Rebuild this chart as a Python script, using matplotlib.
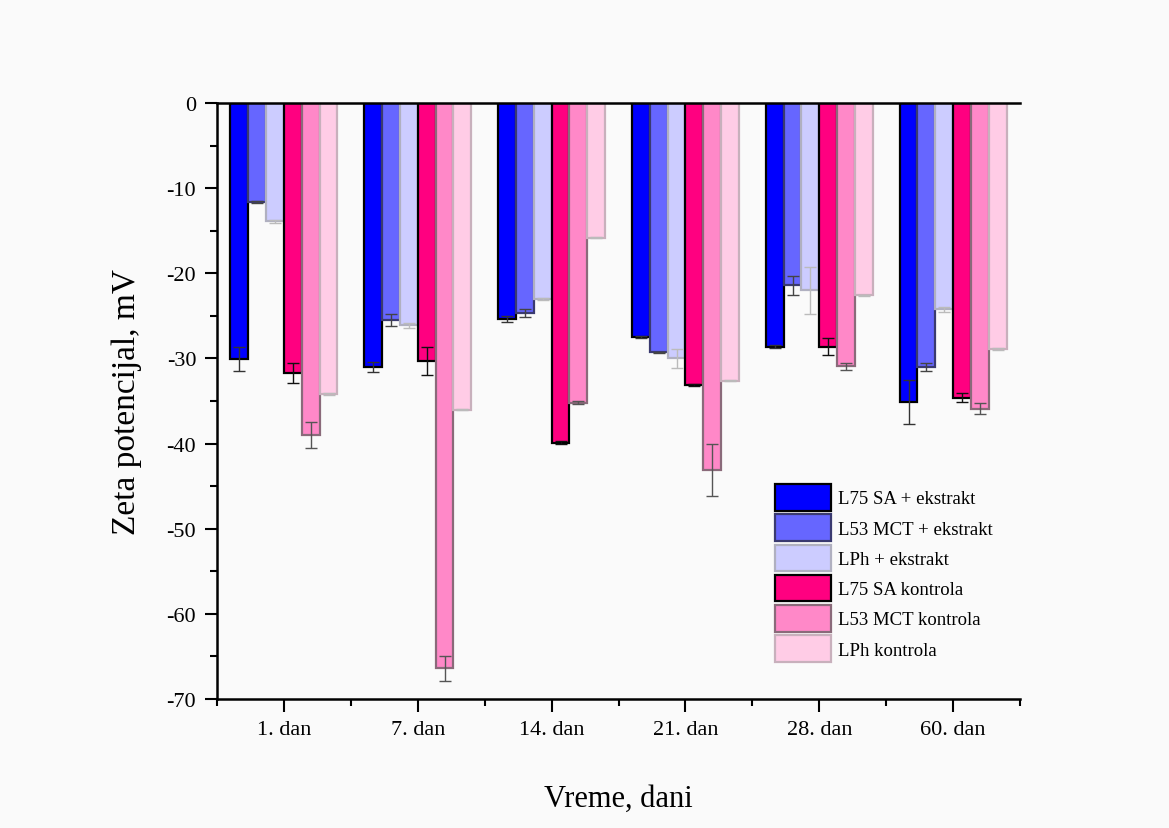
import numpy as np
import matplotlib.pyplot as plt
from matplotlib.ticker import MultipleLocator, FixedLocator

plt.rcParams['font.family'] = ['Liberation Serif', 'DejaVu Serif']
plt.rcParams['axes.unicode_minus'] = False

days = ['1. dan', '7. dan', '14. dan', '21. dan', '28. dan', '60. dan']

series_names = ['L75 SA + ekstrakt', 'L53 MCT + ekstrakt', 'LPh + ekstrakt',
                'L75 SA kontrola', 'L53 MCT kontrola', 'LPh kontrola']

l75_sa_ext = [-30.1, -31.0, -25.4, -27.5, -28.6, -35.1]
l75_sa_ext_err = [1.4, 0.6, 0.35, 0.15, 0.15, 2.6]

l53_mct_ext = [-11.6, -25.5, -24.7, -29.3, -21.4, -31.0]
l53_mct_ext_err = [0.1, 0.7, 0.45, 0.1, 1.1, 0.45]

lph_ext = [-13.9, -26.1, -23.0, -30.0, -22.0, -24.2]
lph_ext_err = [0.2, 0.3, 0.15, 1.1, 2.8, 0.3]

l75_sa_ctrl = [-31.7, -30.3, -39.9, -33.1, -28.6, -34.6]
l75_sa_ctrl_err = [1.2, 1.6, 0.2, 0.1, 0.95, 0.5]

l53_mct_ctrl = [-39.0, -66.4, -35.2, -43.1, -30.9, -35.9]
l53_mct_ctrl_err = [1.5, 1.5, 0.2, 3.05, 0.4, 0.65]

lph_ctrl = [-34.2, -36.0, -15.8, -32.6, -22.6, -28.9]
lph_ctrl_err = [0.1, 0.1, 0.1, 0.1, 0.1, 0.1]

values = [l75_sa_ext, l53_mct_ext, lph_ext, l75_sa_ctrl, l53_mct_ctrl, lph_ctrl]
errors = [l75_sa_ext_err, l53_mct_ext_err, lph_ext_err,
          l75_sa_ctrl_err, l53_mct_ctrl_err, lph_ctrl_err]

face_colors = ['#0000FF', '#6666FF', '#CCCCFF', '#FF0080', '#FF88C8', '#FFCCE6']
edge_colors = ['#000000', '#3a3a70', '#b0b0c0', '#000000', '#8a6a7a', '#c8b0bc']
err_colors = ['#333333', '#444444', '#bbbbbb', '#111111', '#555555', '#bbbbbb']

fig = plt.figure(figsize=(11.69, 8.29), dpi=100, facecolor='#fafafa')
ax = fig.add_axes([0.1856, 0.1556, 0.687, 0.7189])
ax.set_facecolor('none')

x = np.arange(len(days))
n = len(values)
width = 0.8 / n

for i in range(n):
    offs = (i - (n - 1) / 2) * width
    ax.bar(x + offs, values[i], width, color=face_colors[i],
           edgecolor=edge_colors[i], linewidth=1.6, label=series_names[i],
           yerr=errors[i], ecolor=err_colors[i],
           error_kw=dict(elinewidth=1, capsize=4.5, capthick=1))

ax.set_xlim(-0.5, len(days) - 0.5)
ax.set_ylim(-70, 0)

ax.set_xticks(x)
ax.set_xticklabels(days)
ax.xaxis.set_minor_locator(FixedLocator(np.arange(-0.5, len(days), 1.0)))
ax.yaxis.set_major_locator(MultipleLocator(10))
ax.yaxis.set_minor_locator(MultipleLocator(5))

ax.tick_params(axis='both', which='major', direction='out', length=9,
               width=1.5, labelsize=16, pad=6)
ax.tick_params(axis='both', which='minor', direction='out', length=5, width=1.5)

for side in ['left', 'bottom', 'top']:
    ax.spines[side].set_linewidth(1.8)
ax.spines['right'].set_visible(False)

ax.set_ylabel('Zeta potencijal, mV', fontsize=24)
ax.set_xlabel('Vreme, dani', fontsize=22)
ax.yaxis.set_label_coords(-0.093, 0.5)
ax.xaxis.set_label_coords(0.5, -0.143)

leg = ax.legend(loc='upper left', bbox_to_anchor=(775 / 1169, 1 - 485 / 829),
                bbox_transform=fig.transFigure, frameon=False, fontsize=13.5,
                handlelength=3.0, handleheight=1.8, labelspacing=0.2,
                handletextpad=0.35, borderpad=0, borderaxespad=0)

fig.savefig('out.png', dpi=100, facecolor=fig.get_facecolor())
